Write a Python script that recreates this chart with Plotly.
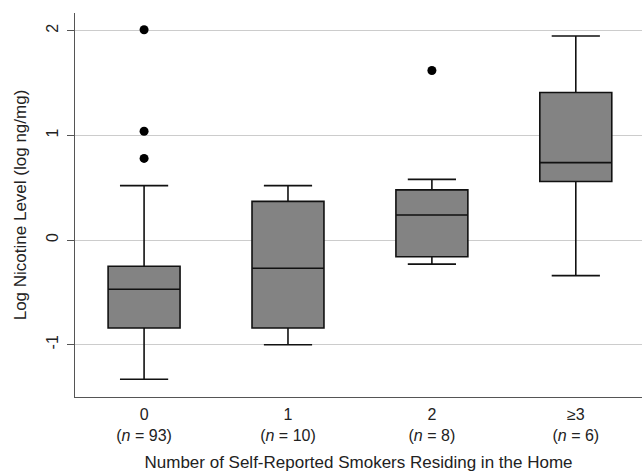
import plotly.graph_objects as go

categories = ["0<br>(<i>n</i> = 93)", "1<br>(<i>n</i> = 10)", "2<br>(<i>n</i> = 8)", "≥3<br>(<i>n</i> = 6)"]
lower_whisker = [-1.33, -1.00, -0.23, -0.34]
q1_vals = [-0.84, -0.84, -0.16, 0.56]
median_vals = [-0.47, -0.27, 0.24, 0.74]
q3_vals = [-0.25, 0.37, 0.48, 1.41]
upper_whisker = [0.52, 0.52, 0.58, 1.95]
outlier_cats = [categories[0], categories[0], categories[0], categories[2]]
outlier_vals = [2.01, 1.04, 0.78, 1.62]

font_family = "Liberation Sans, Arial, sans-serif"

fig = go.Figure()
fig.add_trace(go.Box(
    x=categories,
    q1=q1_vals,
    median=median_vals,
    q3=q3_vals,
    lowerfence=lower_whisker,
    upperfence=upper_whisker,
    width=0.5,
    whiskerwidth=0.67,
    fillcolor="#838383",
    line=dict(color="#111111", width=1.6),
    boxpoints=False,
    showlegend=False,
    hoverinfo="skip",
))
fig.add_trace(go.Scatter(
    x=outlier_cats,
    y=outlier_vals,
    mode="markers",
    marker=dict(color="#000000", size=9),
    showlegend=False,
    hoverinfo="skip",
))

fig.update_layout(
    width=642,
    height=472,
    margin=dict(l=75, r=0, t=13, b=75, autoexpand=False),
    paper_bgcolor="white",
    plot_bgcolor="white",
    font=dict(family=font_family, size=16, color="#222222"),
    xaxis=dict(
        type="category",
        categoryorder="array",
        categoryarray=categories,
        range=[-0.48, 3.46],
        showgrid=False,
        showline=True,
        linecolor="#555555",
        linewidth=1.2,
        ticks="",
        ticklabelstandoff=3,
        tickfont=dict(size=16, color="#222222"),
        zeroline=False,
        automargin=False,
        title=dict(text="Number of Self-Reported Smokers Residing in the Home", standoff=15,
                   font=dict(size=17)),
    ),
    yaxis=dict(
        range=[-1.5, 2.17],
        tickvals=[-1, 0, 1, 2],
        ticktext=["-1", "0", "1", "2"],
        tickangle=-90,
        showgrid=True,
        gridcolor="#cccccc",
        gridwidth=1.2,
        showline=True,
        linecolor="#555555",
        linewidth=1.2,
        ticks="outside",
        ticklen=7,
        tickcolor="#555555",
        ticklabelstandoff=3,
        tickfont=dict(size=16, color="#222222"),
        zeroline=False,
        automargin=False,
        title=dict(text="Log Nicotine Level (log ng/mg)", standoff=12, font=dict(size=17)),
    ),
)

fig.write_html("out.html", config={"displayModeBar": False},
               post_script="document.body.style.margin='0px';")
